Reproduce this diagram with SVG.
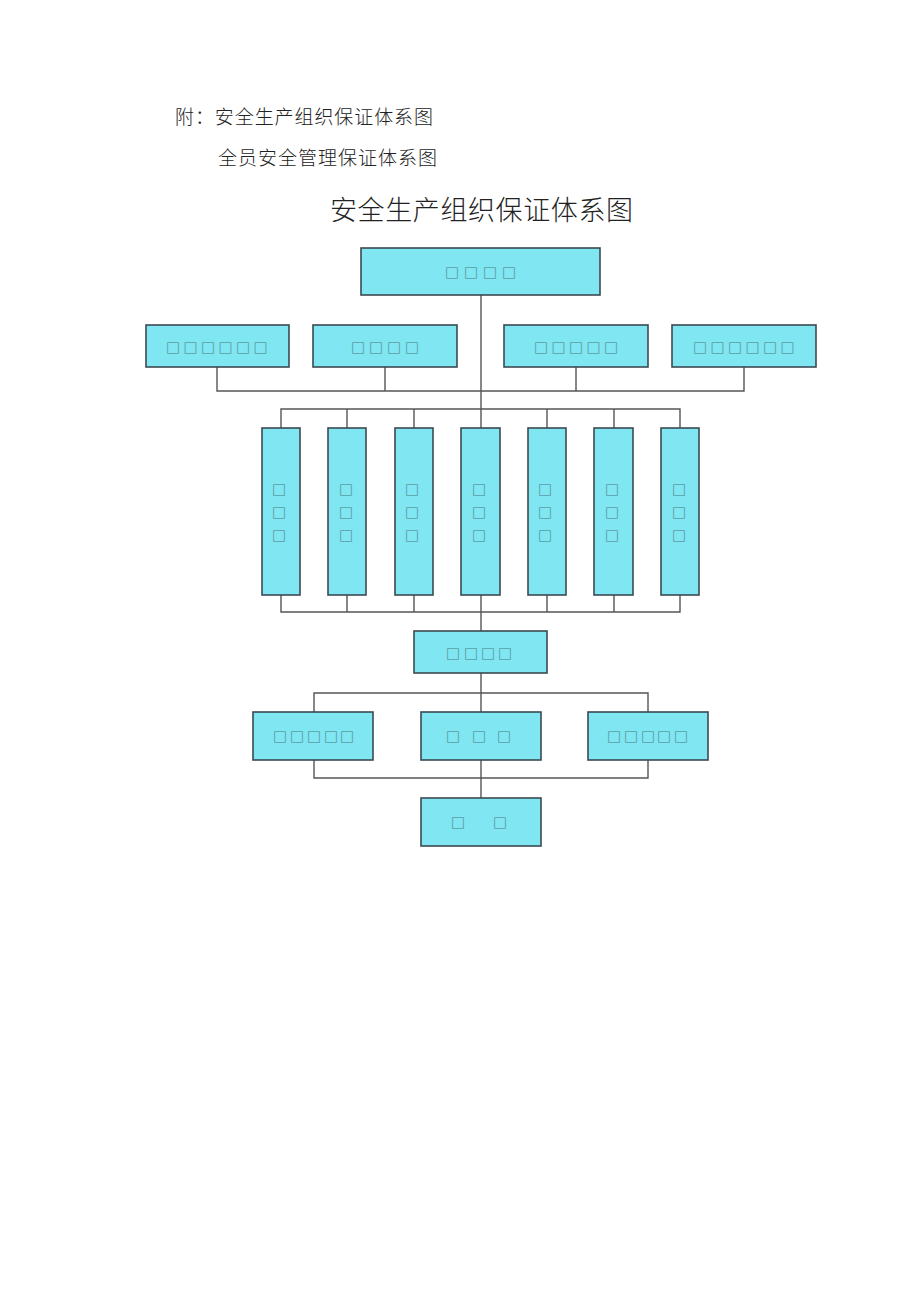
<svg xmlns="http://www.w3.org/2000/svg" width="920" height="1301" viewBox="0 0 920 1301">
<style>
.hd{font-family:"Noto Sans CJK SC","Liberation Serif",serif;fill:#222;font-weight:300}
.bx{fill:#80e6f2;stroke:#3b4a52;stroke-width:1.6}
.t{font-family:"DejaVu Sans",sans-serif;font-size:15px;fill:#5a9fa6;text-anchor:middle;dominant-baseline:central}
.c{fill:none;stroke:#555;stroke-width:1.4}
</style>
<rect width="920" height="1301" fill="#fff"/>
<text class="hd" x="175" y="124" font-size="19" textLength="258">附：安全生产组织保证体系图</text>
<text class="hd" x="218" y="165" font-size="19" textLength="219">全员安全管理保证体系图</text>
<text class="hd" x="330" y="220" font-size="27" textLength="303">安全生产组织保证体系图</text>
<g id="connectors">
<path class="c" d="M481 295V631"/>
<path class="c" d="M217 367V391H744V367M385 367V391M576 367V391"/>
<path class="c" d="M281 428V409H680V428M347 409V428M414 409V428M547 409V428M614 409V428"/>
<path class="c" d="M281 595V612H680V595M347 595V612M414 595V612M547 595V612M614 595V612"/>
<path class="c" d="M481 673V712M314 712V693H648V712"/>
<path class="c" d="M314 760V778H648V760M481 760V798"/>
</g>
<g id="n0"><rect class="bx" x="361" y="248" width="239" height="47"/><text class="t" y="272"><tspan x="452">□</tspan><tspan x="471">□</tspan><tspan x="490">□</tspan><tspan x="509">□</tspan></text></g>
<g id="n1"><rect class="bx" x="146" y="325" width="143" height="42"/><text class="t" y="347"><tspan x="173">□</tspan><tspan x="190.5">□</tspan><tspan x="208">□</tspan><tspan x="225.5">□</tspan><tspan x="243">□</tspan><tspan x="260.5">□</tspan></text></g>
<g id="n2"><rect class="bx" x="313" y="325" width="144" height="42"/><text class="t" y="347"><tspan x="358">□</tspan><tspan x="376">□</tspan><tspan x="394">□</tspan><tspan x="412">□</tspan></text></g>
<g id="n3"><rect class="bx" x="504" y="325" width="144" height="42"/><text class="t" y="347"><tspan x="541">□</tspan><tspan x="558.5">□</tspan><tspan x="576">□</tspan><tspan x="593.5">□</tspan><tspan x="611">□</tspan></text></g>
<g id="n4"><rect class="bx" x="672" y="325" width="144" height="42"/><text class="t" y="347"><tspan x="700">□</tspan><tspan x="717.5">□</tspan><tspan x="735">□</tspan><tspan x="752.5">□</tspan><tspan x="770">□</tspan><tspan x="787.5">□</tspan></text></g>
<g id="v1"><rect class="bx" x="262" y="428" width="38" height="167"/><text class="t"><tspan x="279" y="489">□</tspan><tspan x="279" y="512">□</tspan><tspan x="279" y="535">□</tspan></text></g>
<g id="v2"><rect class="bx" x="328" y="428" width="38" height="167"/><text class="t"><tspan x="346" y="489">□</tspan><tspan x="346" y="512">□</tspan><tspan x="346" y="535">□</tspan></text></g>
<g id="v3"><rect class="bx" x="395" y="428" width="38" height="167"/><text class="t"><tspan x="412" y="489">□</tspan><tspan x="412" y="512">□</tspan><tspan x="412" y="535">□</tspan></text></g>
<g id="v4"><rect class="bx" x="461" y="428" width="39" height="167"/><text class="t"><tspan x="479" y="489">□</tspan><tspan x="479" y="512">□</tspan><tspan x="479" y="535">□</tspan></text></g>
<g id="v5"><rect class="bx" x="528" y="428" width="38" height="167"/><text class="t"><tspan x="545" y="489">□</tspan><tspan x="545" y="512">□</tspan><tspan x="545" y="535">□</tspan></text></g>
<g id="v6"><rect class="bx" x="594" y="428" width="39" height="167"/><text class="t"><tspan x="612" y="489">□</tspan><tspan x="612" y="512">□</tspan><tspan x="612" y="535">□</tspan></text></g>
<g id="v7"><rect class="bx" x="661" y="428" width="38" height="167"/><text class="t"><tspan x="679" y="489">□</tspan><tspan x="679" y="512">□</tspan><tspan x="679" y="535">□</tspan></text></g>
<g id="m"><rect class="bx" x="414" y="631" width="133" height="42"/><text class="t" y="653"><tspan x="453">□</tspan><tspan x="471">□</tspan><tspan x="488">□</tspan><tspan x="505">□</tspan></text></g>
<g id="r1"><rect class="bx" x="253" y="712" width="120" height="48"/><text class="t" y="736"><tspan x="280">□</tspan><tspan x="297">□</tspan><tspan x="314">□</tspan><tspan x="331">□</tspan><tspan x="347">□</tspan></text></g>
<g id="r2"><rect class="bx" x="421" y="712" width="120" height="48"/><text class="t" y="736"><tspan x="453">□</tspan><tspan x="479">□</tspan><tspan x="504">□</tspan></text></g>
<g id="r3"><rect class="bx" x="588" y="712" width="120" height="48"/><text class="t" y="736"><tspan x="614">□</tspan><tspan x="631">□</tspan><tspan x="648">□</tspan><tspan x="664">□</tspan><tspan x="681">□</tspan></text></g>
<g id="b"><rect class="bx" x="421" y="798" width="120" height="48"/><text class="t" y="822"><tspan x="458">□</tspan><tspan x="500">□</tspan></text></g>
</svg>
